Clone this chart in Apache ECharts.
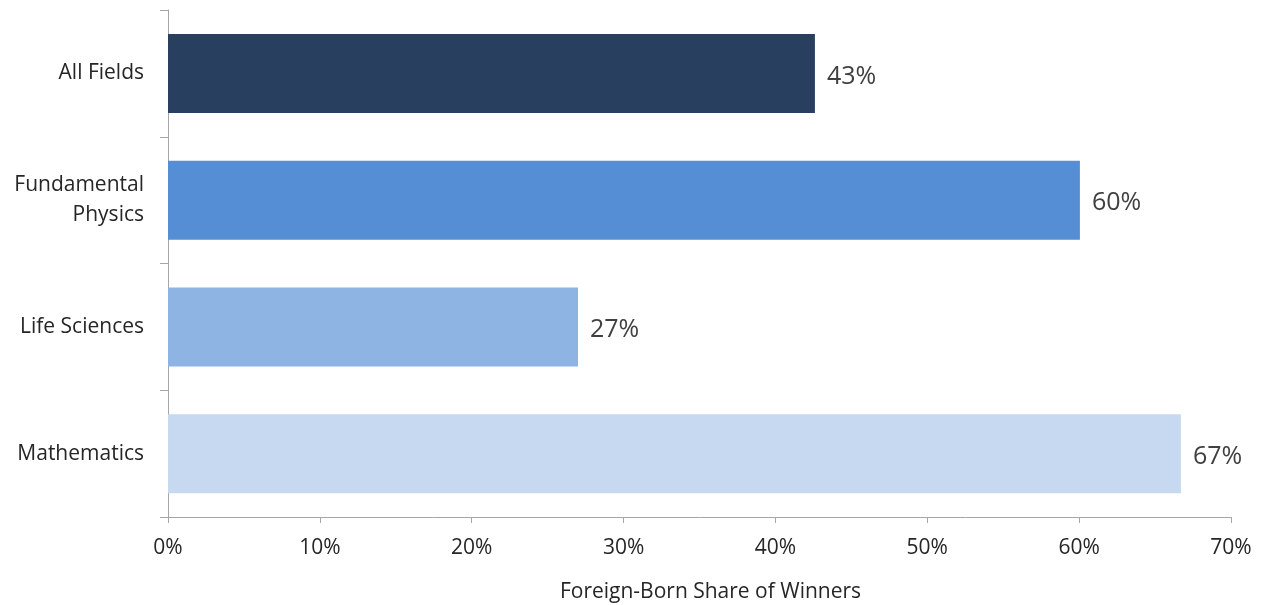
<!DOCTYPE html>
<html>
<head>
<meta charset="utf-8">
<script src="https://cdn.jsdelivr.net/npm/echarts@6/dist/echarts.min.js"></script>
<style>html,body{margin:0;padding:0;background:#fff;}#c{width:1264px;height:605px;}</style>
</head>
<body>
<div id="c"></div>
<script>
const categories = ['All Fields', 'Fundamental\nPhysics', 'Life Sciences', 'Mathematics'];
const values = [42.6, 60.05, 27.0, 66.7];
const valueLabels = ['43%', '60%', '27%', '67%'];
const barColors = ['#283f5f', '#558ed5', '#8eb4e3', '#c6d9f1'];
const xTicks = [0, 10, 20, 30, 40, 50, 60, 70];
const axisName = 'Foreign-Born Share of Winners';

const font = '"Open Sans", "Liberation Sans", sans-serif';
const chart = echarts.init(document.getElementById('c'), null, {renderer: 'canvas'});
chart.setOption({
  animation: false,
  backgroundColor: '#ffffff',
  grid: {left: 168, right: 33, top: 10, bottom: 88, containLabel: false, outerBoundsMode: 'none'},
  xAxis: {
    type: 'value', min: 0, max: 70, interval: 10,
    axisLine: {show: true, lineStyle: {color: '#a6a6a6', width: 1}},
    axisTick: {show: true, length: 6, lineStyle: {color: '#a6a6a6'}},
    splitLine: {show: false},
    axisLabel: {formatter: v => v + '%', color: '#262626', fontSize: 21, fontFamily: font, margin: 21},
    name: axisName, nameLocation: 'middle', nameGap: 65,
    nameTextStyle: {color: '#262626', fontSize: 21, fontFamily: font, padding: [0, 0, 0, 22]}
  },
  yAxis: {
    type: 'category', inverse: true, data: categories,
    axisLine: {show: true, lineStyle: {color: '#a6a6a6', width: 1}},
    axisTick: {show: true, length: 8, lineStyle: {color: '#a6a6a6'}},
    axisLabel: {color: '#262626', fontSize: 21, fontFamily: font, margin: 24, lineHeight: 30, align: 'right', padding: [4, 0, 0, 0]}
  },
  series: [{
    type: 'bar',
    barWidth: 79,
    data: values.map((v, i) => ({value: v, itemStyle: {color: barColors[i]}})),
    label: {
      show: true, position: 'right', distance: 12, offset: [0, 3],
      formatter: p => valueLabels[p.dataIndex],
      color: '#404040', fontSize: 25, fontFamily: font
    }
  }]
});
</script>
</body>
</html>
